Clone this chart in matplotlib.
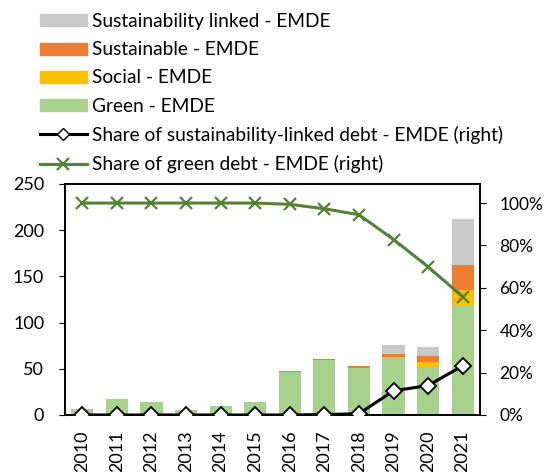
import numpy as np
import matplotlib.pyplot as plt
from matplotlib.patches import Patch
from matplotlib.lines import Line2D
from matplotlib.ticker import PercentFormatter

plt.rcParams["font.family"] = ["Lato", "DejaVu Sans"]

years = ["2010", "2011", "2012", "2013", "2014", "2015",
         "2016", "2017", "2018", "2019", "2020", "2021"]
green = [7, 17, 14, 5, 10, 14, 46.5, 59, 50.5, 62, 51.5, 119]
social = [0, 0, 0, 0, 0, 0, 0, 0, 0, 0.7, 5.7, 16]
sustainable = [0, 0, 0, 0, 0, 0, 0.8, 1.4, 2.5, 3.2, 6.1, 27.7]
sust_linked = [0, 0, 0, 0, 0, 0, 0, 0, 0, 9.4, 10.1, 49.6]
share_sl = [0, 0, 0, 0, 0, 0, 0, 0.2, 0.6, 11.4, 13.9, 23.2]
share_green = [100, 100, 100, 100, 100, 100, 99.4, 97.3, 94.5, 82.8, 69.9, 55.8]

c_gray = "#C9C9C9"
c_orange = "#ED7D31"
c_yellow = "#FFC000"
c_green = "#A9D18E"
c_line = "#548235"

fig = plt.figure(figsize=(5.5, 4.72), dpi=100)
ax = fig.add_axes([0.1182, 0.1208, 0.7545, 0.4894])

x = np.arange(len(years))
w = 0.64
b1 = np.array(green)
b2 = b1 + np.array(social)
b3 = b2 + np.array(sustainable)
ax.bar(x, green, w, color=c_green, zorder=2)
ax.bar(x, social, w, bottom=b1, color=c_yellow, zorder=2)
ax.bar(x, sustainable, w, bottom=b2, color=c_orange, zorder=2)
ax.bar(x, sust_linked, w, bottom=b3, color=c_gray, zorder=2)

ax.set_ylim(0, 250)
ax.set_yticks([0, 50, 100, 150, 200, 250])
ax.set_xlim(-0.5, len(years) - 0.5)
ax.set_xticks(x)
ax.set_xticklabels(years, rotation=90, va="top")
ax.tick_params(axis="y", labelsize=13, direction="out", length=4, pad=11)
ax.tick_params(axis="x", labelsize=13, length=0, pad=11)

ax2 = ax.twinx()
ax2.plot(x, share_green, color=c_line, lw=2.2, marker="x", ms=9, mew=1.6, zorder=3)
ax2.plot(x, share_sl, color="black", lw=2.2, marker="D", ms=8, mfc="white",
         mec="black", mew=1.3, zorder=4)
ax2.set_ylim(0, 109)
ax2.set_yticks([0, 20, 40, 60, 80, 100])
ax2.yaxis.set_major_formatter(PercentFormatter(decimals=0))
ax2.tick_params(axis="y", labelsize=12.5, direction="out", length=4, pad=10)

for a in (ax, ax2):
    for s in a.spines.values():
        s.set_linewidth(1.2)

handles = [
    Patch(color=c_gray, label="Sustainability linked - EMDE"),
    Patch(color=c_orange, label="Sustainable - EMDE"),
    Patch(color=c_yellow, label="Social - EMDE"),
    Patch(color=c_green, label="Green - EMDE"),
    Line2D([], [], color="black", lw=2.2, marker="D", ms=6.5, mfc="white",
           mec="black", label="Share of sustainability-linked debt - EMDE (right)"),
    Line2D([], [], color=c_line, lw=2.2, marker="x", ms=9, mew=1.6,
           label="Share of green debt - EMDE (right)"),
]
fig.legend(handles=handles, loc="upper left", bbox_to_anchor=(0.0727, 0.972),
           frameon=False, fontsize=13.8, handlelength=2.45, handleheight=0.58,
           handletextpad=0.26, labelspacing=0.58, borderpad=0, borderaxespad=0)

fig.savefig("out.png", dpi=100)
